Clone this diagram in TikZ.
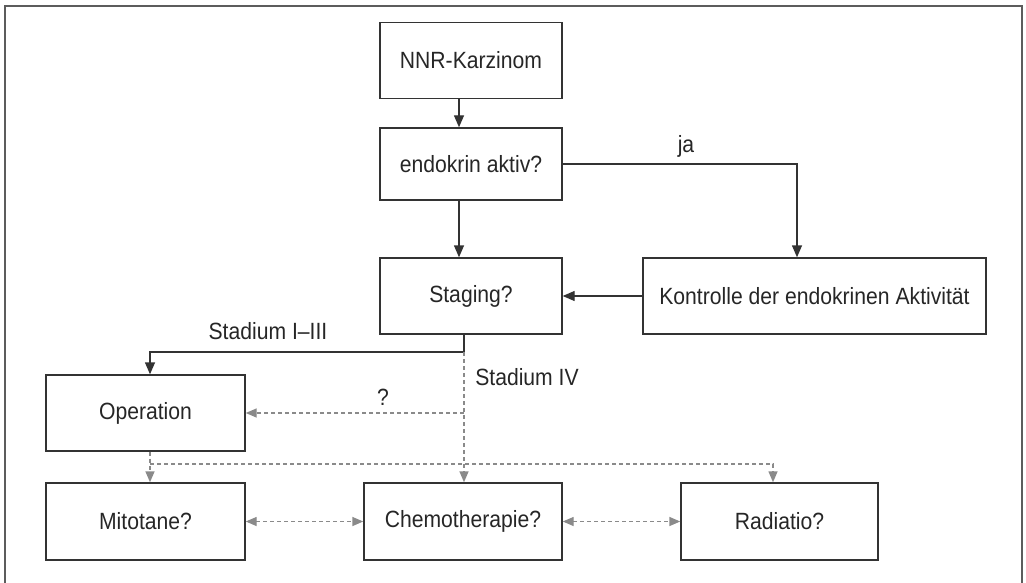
\documentclass[tikz,border=0pt]{standalone}
\usepackage{fontspec}
\setmainfont{Liberation Sans}[FakeStretch=0.9]
\usetikzlibrary{arrows.meta}
\definecolor{lineC}{HTML}{333333}
\definecolor{dashC}{HTML}{8A8A8A}
\begin{document}
\begin{tikzpicture}[x=1pt,y=-1pt,
  box/.style={draw=lineC,line width=1.4pt,minimum width=#1,minimum height=76pt,inner sep=0pt,font=\fontsize{23.5}{28}\selectfont,text=black!85},
  box/.default=182pt,
  lbl/.style={font=\fontsize{23.5}{28}\selectfont,text=black!85,inner sep=0pt},
  solid arrow/.style={draw=lineC,line width=1.4pt,-{Triangle[length=12pt,width=10pt]}},
  solid line/.style={draw=lineC,line width=1.4pt},
  dash line/.style={draw=dashC,line width=1.4pt,dash pattern=on 4pt off 3pt},
  dash arrow/.style={dash line,-{Triangle[length=11pt,width=9pt]}},
  dash both/.style={dash line,{Triangle[length=11pt,width=9pt]}-{Triangle[length=11pt,width=9pt]}}
]
\useasboundingbox (0,0) rectangle (1026,583);
% frame
\draw[draw=lineC!80,line width=2pt] (5,590) -- (5,6) -- (1022,6) -- (1022,590);

% boxes
\node[box] (nnr) at (471,60.5) {NNR-Karzinom};
\node[box,minimum height=72pt] (endo) at (471,164) {endokrin aktiv?};
\node[box] (stag) at (471,296) {Staging?};
\node[box=343pt] (kont) at (814.5,296) {Kontrolle der endokrinen Aktivit\"at};
\node[box=199pt] (op) at (145.5,413) {Operation};
\node[box=199pt,minimum height=77pt] (mito) at (145.5,521.5) {Mitotane?};
\node[box=198pt,minimum height=77pt] (chemo) at (463,521.5) {Chemotherapie?};
\node[box=197pt,minimum height=77pt] (radi) at (779.5,521.5) {Radiatio?};

% helper coordinates
\coordinate (xa) at (459,0);
\coordinate (xb) at (464,0);
\coordinate (xj) at (797,0);
\coordinate (xo) at (150,0);
\coordinate (xr) at (773,0);
\coordinate (ysplit) at (0,352);
\coordinate (yq) at (0,413);
\coordinate (yh) at (0,464);

% solid connectors
\draw[solid arrow] (nnr.south -| xa) -- (endo.north -| xa);
\draw[solid arrow] (endo.south -| xa) -- (stag.north -| xa);
\draw[solid arrow] (endo.east) -- (endo.east -| xj) -- (kont.north -| xj);
\node[lbl] (ja) at (686,146) {ja};
\draw[solid arrow] (kont.west) -- (stag.east);
\draw[solid arrow] (stag.south -| xb) -- (ysplit -| xb) -- (ysplit -| xo) -- (op.north -| xo);
\node[lbl] (s13) at (268,331) {Stadium I–III};
\node[lbl] (s4) at (527,377) {Stadium IV};

% dashed connectors
\draw[dash arrow] (ysplit -| xb) -- (chemo.north -| xb);
\draw[dash arrow] (yq -| xb) -- (op.east);
\node[lbl] (q) at (383,397) {?};
\draw[dash arrow] (op.south -| xo) -- (mito.north -| xo);
\draw[dash arrow] (yh -| xo) -- (yh -| xr) -- (radi.north -| xr);
\draw[dash both] (mito.east) -- (chemo.west);
\draw[dash both] (chemo.east) -- (radi.west);
\end{tikzpicture}
\end{document}
